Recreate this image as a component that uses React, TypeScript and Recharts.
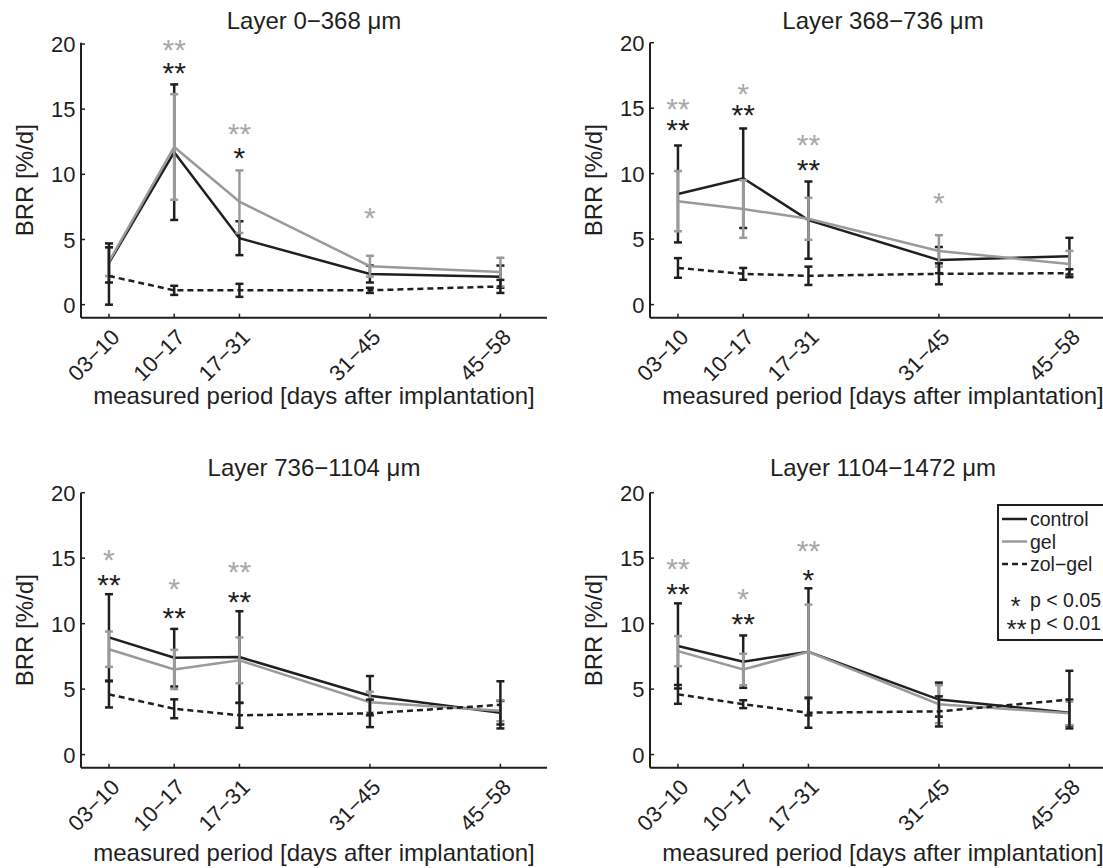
import { ComposedChart, ErrorBar, Label, Line, Scatter, XAxis, YAxis } from "recharts";

const FONT = '"Liberation Sans", Arial, Helvetica, sans-serif';
const INK = "#1f1f1f";
const GREY = "#9a9a9a";
const STAR_GREY = "#a8a8a8";

// x positions are the first day of each measured period
const days = [3, 10, 17, 31, 45];
const periods = ["03−10", "10−17", "17−31", "31−45", "45−58"];
const yTicks = [0, 5, 10, 15, 20];
const titles = ["Layer 0−368 μm", "Layer 368−736 μm", "Layer 736−1104 μm", "Layer 1104−1472 μm"];

// Layer 0-368
const control0 = [3.2, 11.7, 5.1, 2.35, 2.15];
const control0Err = [1.5, 5.2, 1.3, 0.65, 0.85];
const gel0 = [3.3, 12.1, 7.9, 2.95, 2.5];
const gel0Err = [1.1, 4.05, 2.4, 0.8, 1.1];
const zol0 = [2.2, 1.1, 1.1, 1.1, 1.4];
const zol0Err = [2.2, 0.35, 0.5, 0.2, 0.5];

// Layer 368-736
const control1 = [8.45, 9.65, 6.45, 3.4, 3.7];
const control1Err = [3.7, 3.8, 2.95, 1.0, 1.4];
const gel1 = [7.9, 7.3, 6.55, 4.1, 3.1];
const gel1Err = [2.3, 2.2, 1.6, 1.2, 1.0];
const zol1 = [2.8, 2.35, 2.2, 2.35, 2.4];
const zol1Err = [0.75, 0.45, 0.7, 0.8, 0.3];

// Layer 736-1104
const control2 = [8.95, 7.4, 7.45, 4.5, 3.2];
const control2Err = [3.3, 2.2, 3.5, 1.5, 0.9];
const gel2 = [8.05, 6.5, 7.2, 4.0, 3.35];
const gel2Err = [1.35, 1.5, 1.75, 0.8, 0.8];
const zol2 = [4.6, 3.5, 3.0, 3.15, 3.8];
const zol2Err = [1.0, 0.72, 0.95, 1.05, 1.8];

// Layer 1104-1472
const control3 = [8.3, 7.1, 7.85, 4.2, 3.2];
const control3Err = [3.25, 2.0, 4.85, 1.3, 1.0];
const gel3 = [7.9, 6.5, 7.85, 3.85, 3.15];
const gel3Err = [1.15, 1.2, 3.6, 1.45, 0.9];
const zol3 = [4.6, 3.85, 3.2, 3.3, 4.2];
const zol3Err = [0.72, 0.3, 1.15, 1.15, 2.2];

// significance marks: g = gel vs zol-gel (grey), k = control vs zol-gel (black)
const stars0 = [
	{ day: 10, y: 20.1, mark: "**", tone: "g" },
	{ day: 10, y: 18.3, mark: "**", tone: "k" },
	{ day: 17, y: 13.6, mark: "**", tone: "g" },
	{ day: 17, y: 11.8, mark: "*", tone: "k" },
	{ day: 31, y: 7.2, mark: "*", tone: "g" },
];
const stars1 = [
	{ day: 3, y: 15.5, mark: "**", tone: "g" },
	{ day: 3, y: 13.9, mark: "**", tone: "k" },
	{ day: 10, y: 16.6, mark: "*", tone: "g" },
	{ day: 10, y: 15.0, mark: "**", tone: "k" },
	{ day: 17, y: 12.75, mark: "**", tone: "g" },
	{ day: 17, y: 10.8, mark: "**", tone: "k" },
	{ day: 31, y: 8.3, mark: "*", tone: "g" },
];
const stars2 = [
	{ day: 3, y: 15.4, mark: "*", tone: "g" },
	{ day: 3, y: 13.5, mark: "**", tone: "k" },
	{ day: 10, y: 13.2, mark: "*", tone: "g" },
	{ day: 10, y: 11.0, mark: "**", tone: "k" },
	{ day: 17, y: 14.5, mark: "**", tone: "g" },
	{ day: 17, y: 12.2, mark: "**", tone: "k" },
];
const stars3 = [
	{ day: 3, y: 14.7, mark: "**", tone: "g" },
	{ day: 3, y: 12.8, mark: "**", tone: "k" },
	{ day: 10, y: 12.4, mark: "*", tone: "g" },
	{ day: 10, y: 10.5, mark: "**", tone: "k" },
	{ day: 17, y: 16.1, mark: "**", tone: "g" },
	{ day: 17, y: 13.9, mark: "*", tone: "k" },
];

const XTick = (props: any) => {
	const { x, y, payload } = props;
	const ax = x + 12;
	const ay = y + 21;
	return (
		<g>
			<line x1={x} y1={y} x2={x} y2={y - 4} stroke={INK} strokeWidth={1.5} />
			<text
				x={ax}
				y={ay}
				transform={`rotate(-45 ${ax} ${ay})`}
				textAnchor="end"
				fontSize={22}
				fontFamily={FONT}
				fill={INK}>
				{periods[days.indexOf(payload.value)]}
			</text>
		</g>
	);
};

const YTick = (props: any) => {
	const { x, y, payload } = props;
	return (
		<g>
			<line x1={x} y1={y} x2={x + 4} y2={y} stroke={INK} strokeWidth={1.5} />
			<text x={x - 5.5} y={y + 8} textAnchor="end" fontSize={22} fontFamily={FONT} fill={INK}>
				{payload.value}
			</text>
		</g>
	);
};

const YTitle = (props: any) => {
	const { viewBox } = props;
	const cx = viewBox.x + 24;
	const cy = viewBox.y + viewBox.height / 2;
	return (
		<text
			x={cx}
			y={cy}
			transform={`rotate(-90 ${cx} ${cy})`}
			textAnchor="middle"
			dominantBaseline="central"
			fontSize={24}
			fontFamily={FONT}
			fill={INK}>
			BRR [%/d]
		</text>
	);
};

const makeXTitle = (dy: number) => (props: any) => {
	const { viewBox } = props;
	return (
		<text
			x={viewBox.x + viewBox.width / 2}
			y={viewBox.y + dy}
			textAnchor="middle"
			fontSize={24}
			fontFamily={FONT}
			fill={INK}>
			measured period [days after implantation]
		</text>
	);
};

const StarMark = (props: any) => {
	const { cx, cy, payload } = props;
	return (
		<text
			x={cx}
			y={cy + 17}
			textAnchor="middle"
			fontSize={30}
			fontFamily={FONT}
			fill={payload.tone === "g" ? STAR_GREY : INK}>
			{payload.mark}
		</text>
	);
};

const LegendBox = () => (
	<svg width={130} height={150} style={{ position: "absolute", left: 427, top: 54 }}>
		<rect x={1} y={1} width={140} height={135} fill="#fff" stroke={INK} strokeWidth={2} />
		<line x1={5} y1={15} x2={30} y2={15} stroke={INK} strokeWidth={2.5} />
		<line x1={5} y1={37.5} x2={30} y2={37.5} stroke={GREY} strokeWidth={2.5} />
		<line x1={5} y1={60} x2={30} y2={60} stroke={INK} strokeWidth={2.5} strokeDasharray="6 4" />
		<g fontSize={19.5} fontFamily={FONT} fill={INK} dominantBaseline="central">
			<text x={33} y={15}>control</text>
			<text x={33} y={37.5}>gel</text>
			<text x={33} y={60}>zol−gel</text>
			<text x={33} y={96}>p &lt; 0.05</text>
			<text x={33} y={119}>p &lt; 0.01</text>
		</g>
		<g fontSize={26} fontFamily={FONT} fill={INK} textAnchor="middle">
			<text x={18.5} y={96 + 15}>*</text>
			<text x={19.5} y={119 + 15}>**</text>
		</g>
	</svg>
);

type PanelProps = {
	left: number;
	top: number;
	title: string;
	control: number[];
	controlErr: number[];
	gel: number[];
	gelErr: number[];
	zol: number[];
	zolErr: number[];
	stars: { day: number; y: number; mark: string; tone: string }[];
	xTitleDy: number;
	titleTop: number;
	legend?: boolean;
};

const Panel = ({ left, top, title, control, controlErr, gel, gelErr, zol, zolErr, stars, xTitleDy, titleTop, legend }: PanelProps) => {
	const rows = days.map((day, i) => ({
		day,
		control: control[i],
		controlErr: controlErr[i],
		gel: gel[i],
		gelErr: gelErr[i],
		zol: zol[i],
		zolErr: zolErr[i],
	}));
	return (
		<div style={{ position: "absolute", left, top, width: 550, height: 430 }}>
			<div
				style={{
					position: "absolute",
					left: 80,
					width: 466,
					top: titleTop,
					textAlign: "center",
					fontSize: 24,
					lineHeight: "26px",
					fontFamily: FONT,
					color: INK,
				}}>
				{title}
			</div>
			<ComposedChart width={550} height={430} data={rows} margin={{ top: 42.7, right: 4, bottom: 2.3, left: 0 }}>
				<XAxis
					type="number"
					dataKey="day"
					domain={[0, 50]}
					ticks={days}
					interval={0}
					height={110}
					tickSize={0}
					tickMargin={0}
					tickLine={false}
					tick={XTick}
					axisLine={{ stroke: INK, strokeWidth: 2 }}>
					<Label content={makeXTitle(xTitleDy)} />
				</XAxis>
				<YAxis
					type="number"
					domain={[-1, 20]}
					ticks={yTicks}
					interval={0}
					width={80}
					tickSize={0}
					tickMargin={0}
					tickLine={false}
					tick={YTick}
					axisLine={{ stroke: INK, strokeWidth: 2 }}>
					<Label content={YTitle} />
				</YAxis>
				<Line dataKey="control" stroke={INK} strokeWidth={2.5} dot={false} isAnimationActive={false}>
					<ErrorBar dataKey="controlErr" width={4} stroke={INK} strokeWidth={2.5} />
				</Line>
				<Line dataKey="gel" stroke={GREY} strokeWidth={2.5} dot={false} isAnimationActive={false}>
					<ErrorBar dataKey="gelErr" width={4} stroke={GREY} strokeWidth={2.5} />
				</Line>
				<Line dataKey="zol" stroke={INK} strokeWidth={2.5} strokeDasharray="6 4" dot={false} isAnimationActive={false}>
					<ErrorBar dataKey="zolErr" width={4} stroke={INK} strokeWidth={2.5} />
				</Line>
				<Scatter data={stars} dataKey="y" shape={StarMark} isAnimationActive={false} />
			</ComposedChart>
			{legend ? <LegendBox /> : null}
		</div>
	);
};

export default function App() {
	return (
		<div
			style={{
				position: "absolute",
				left: 0,
				top: 0,
				width: 1103,
				height: 868,
				overflow: "hidden",
				background: "#fff",
			}}>
			<Panel left={1} top={0} title={titles[0]} control={control0} controlErr={control0Err} gel={gel0} gelErr={gel0Err} zol={zol0} zolErr={zol0Err} stars={stars0} xTitleDy={86} titleTop={8} />
			<Panel left={570} top={0} title={titles[1]} control={control1} controlErr={control1Err} gel={gel1} gelErr={gel1Err} zol={zol1} zolErr={zol1Err} stars={stars1} xTitleDy={86} titleTop={8} />
			<Panel left={1} top={450} title={titles[2]} control={control2} controlErr={control2Err} gel={gel2} gelErr={gel2Err} zol={zol2} zolErr={zol2Err} stars={stars2} xTitleDy={93} titleTop={5} />
			<Panel left={570} top={450} title={titles[3]} control={control3} controlErr={control3Err} gel={gel3} gelErr={gel3Err} zol={zol3} zolErr={zol3Err} stars={stars3} xTitleDy={93} titleTop={5} legend />
		</div>
	);
}
